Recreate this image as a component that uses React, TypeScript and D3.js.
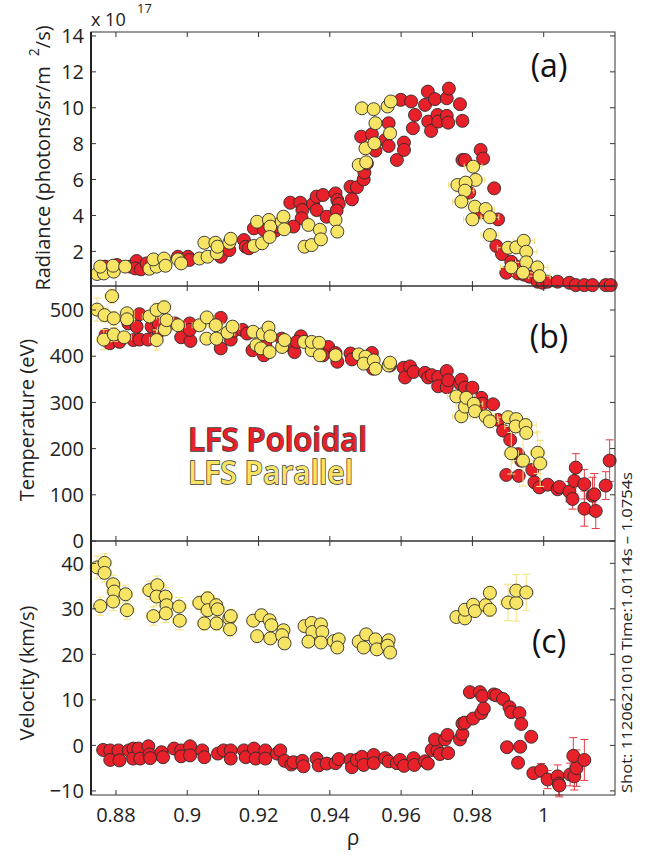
import React from 'react';
import * as d3 from 'd3';

// [rho, value, xErr, yErr]
type Pt = [number, number, number?, number?];

const X_TICKS = [0.88, 0.9, 0.92, 0.94, 0.96, 0.98, 1];
const X_TICK_LABELS = ['0.88', '0.9', '0.92', '0.94', '0.96', '0.98', '1'];
const RAD_TICKS = [2, 4, 6, 8, 10, 12, 14];
const TEMP_TICKS = [0, 100, 200, 300, 400, 500];
const VEL_TICKS = [-10, 0, 10, 20, 30, 40];

const radPoloidal: Pt[] = [
  [0.877, 1.15], [0.8803, 1.24], [0.884, 1.15], [0.8858, 1.46], [0.8854, 1.05], [0.887, 1.0], [0.8886, 1.33],
  [0.892, 1.4], [0.8974, 1.7], [0.9002, 1.7], [0.9006, 1.52], [0.9094, 1.7], [0.9118, 2.07], [0.9159, 2.63],
  [0.9164, 2.26], [0.9173, 2.17], [0.9187, 3.28], [0.9215, 3.2], [0.9247, 3.15], [0.9256, 3.38], [0.9289, 4.71],
  [0.9317, 4.71], [0.9323, 4.3], [0.9321, 3.84], [0.9298, 3.38], [0.9353, 4.64], [0.9363, 5.05], [0.9381, 5.14],
  [0.9363, 4.3], [0.9391, 3.93], [0.9416, 5.23], [0.9421, 4.86], [0.9425, 4.64], [0.9419, 4.27], [0.9458, 5.6],
  [0.9462, 4.9], [0.9476, 5.57], [0.9495, 6.01], [0.9497, 6.39], [0.9504, 6.9], [0.9488, 8.39], [0.9518, 8.52],
  [0.9528, 7.61], [0.9555, 8.2], [0.9565, 7.87], [0.9565, 9.14], [0.9588, 7.09], [0.9599, 10.44], [0.9608, 8.06],
  [0.9608, 7.65], [0.9628, 10.35], [0.9633, 8.86], [0.9639, 9.6], [0.9667, 10.16], [0.9675, 10.9], [0.9676, 9.23],
  [0.9684, 8.71], [0.9695, 10.48], [0.9702, 9.6], [0.9704, 9.23], [0.9728, 10.53], [0.9728, 9.55], [0.9734, 11.07],
  [0.9732, 9.17], [0.9765, 10.2], [0.9772, 9.27], [0.9772, 7.09], [0.9779, 7.09], [0.9823, 7.65], [0.983, 7.17],
  [0.9791, 5.27], [0.9861, 5.51], [0.9821, 4.16], [0.9872, 3.78], [0.9867, 2.3], [0.9883, 1.85], [0.9895, 0.81],
  [0.9909, 1.42], [0.9923, 1.15], [0.9928, 0.77], [0.9945, 0.7], [0.996, 0.59], [0.9983, 0.31], [0.9997, 0.25],
  [1.0011, 0.31], [1.0039, 0.31], [1.0072, 0.25], [1.009, 0.12], [1.0114, 0.12], [1.0137, 0.12], [1.0174, 0.12],
  [1.0188, 0.12],
];

const radParallel: Pt[] = [
  [0.8747, 0.74, 0.0015], [0.8766, 0.77, 0.0015], [0.8756, 1.15, 0.0015], [0.8794, 0.87, 0.0015], [0.8792, 1.2, 0.0015],
  [0.8826, 1.15, 0.0015], [0.8894, 1.03, 0.0015], [0.8914, 1.15, 0.0015], [0.8905, 1.55, 0.0015], [0.8935, 1.6, 0.0015],
  [0.8939, 1.2, 0.0015], [0.8974, 1.55, 0.0015], [0.8983, 1.33, 0.0015], [0.9034, 1.6, 0.0015], [0.9048, 2.48, 0.0015],
  [0.9057, 1.7, 0.0015], [0.9079, 2.48, 0.0015], [0.9083, 1.9, 0.0015], [0.9085, 2.26, 0.0015], [0.9118, 2.48, 0.0015],
  [0.9122, 2.7, 0.0015], [0.9187, 2.3, 0.0015], [0.9196, 3.65, 0.0015], [0.921, 2.45, 0.0015], [0.9229, 3.75, 0.0015],
  [0.9233, 3.38, 0.0015], [0.9231, 2.8, 0.0015], [0.9265, 3.65, 0.0015], [0.927, 3.93, 0.0015], [0.9272, 3.23, 0.0015],
  [0.934, 3.47, 0.0015], [0.9329, 2.26, 0.0015], [0.9349, 2.35, 0.0015], [0.9372, 3.2, 0.0015], [0.9375, 2.67, 0.0015],
  [0.9416, 3.75, 0.0015], [0.9421, 3.1, 0.0015], [0.9481, 6.81, 0.0015], [0.9502, 6.96, 0.0015], [0.95, 7.74, 0.0015],
  [0.9525, 8.02, 0.0015], [0.9528, 9.14, 0.0015], [0.9569, 8.58, 0.0015], [0.949, 9.97, 0.0015], [0.9523, 9.92, 0.0015],
  [0.9562, 10.07, 0.0015], [0.9571, 10.35, 0.0015], [0.9802, 6.72, 0.0025], [0.9809, 5.98, 0.0025], [0.9758, 5.7, 0.0025],
  [0.9781, 5.83, 0.0025], [0.9779, 5.38, 0.0025], [0.9769, 4.77, 0.0025], [0.9807, 4.49, 0.0025], [0.9837, 4.36, 0.0025],
  [0.98, 3.78, 0.0025], [0.9849, 3.9, 0.0025], [0.9849, 2.91, 0.0025], [0.99, 2.2, 0.003], [0.9923, 2.22, 0.003],
  [0.9944, 2.59, 0.003], [0.9951, 1.98, 0.003], [0.9909, 1.11, 0.003], [0.9951, 1.39, 0.003], [0.9942, 0.81, 0.003],
  [0.9982, 1.11, 0.003], [0.9988, 0.62, 0.003],
];

const tempPoloidal: Pt[] = [
  [0.8771, 446], [0.8782, 428], [0.881, 431], [0.8835, 471], [0.8849, 435], [0.8858, 464], [0.8866, 491],
  [0.8866, 436], [0.889, 436], [0.89, 464], [0.892, 453], [0.892, 471], [0.8966, 471], [0.8983, 441],
  [0.9007, 471], [0.9009, 433], [0.9007, 457], [0.9094, 483], [0.9094, 417], [0.9122, 436], [0.9131, 455],
  [0.9155, 457], [0.9168, 449], [0.9183, 413], [0.9215, 402], [0.9219, 424], [0.9265, 438], [0.9275, 424],
  [0.9301, 409], [0.9319, 443], [0.9307, 431], [0.9354, 420], [0.9396, 420], [0.9381, 402], [0.9416, 407],
  [0.9421, 388], [0.9458, 406], [0.9462, 393], [0.9518, 407], [0.9521, 373], [0.9569, 380], [0.9607, 375],
  [0.9625, 378], [0.9611, 354], [0.9635, 366], [0.9667, 364], [0.9676, 354], [0.9686, 359], [0.9704, 355],
  [0.9704, 335], [0.9728, 368], [0.9728, 333], [0.9732, 348], [0.9765, 341], [0.9769, 349], [0.9779, 332],
  [0.98, 332], [0.9825, 310], [0.9828, 297], [0.9858, 296], [0.9872, 262], [0.9886, 239], [0.9906, 219],
  [0.9895, 143], [0.9928, 188], [0.993, 141], [0.9937, 174], [0.9968, 154], [0.9974, 127], [0.9988, 116],
  [1.0011, 122], [1.0039, 112], [1.0044, 117], [1.0072, 107, 0, 22], [1.0081, 91, 0, 22], [1.0086, 130, 0, 28],
  [1.009, 159, 0, 30], [1.0114, 123, 0, 32], [1.0114, 70, 0, 38], [1.0137, 98, 0, 40], [1.0142, 101, 0, 45],
  [1.0146, 65, 0, 38], [1.0174, 120, 0, 30], [1.0185, 174, 0, 45],
];

const tempParallel: Pt[] = [
  [0.8747, 501, 0.002, 25], [0.8789, 530, 0.002, 15], [0.8768, 489, 0.002, 15], [0.8794, 482, 0.002, 15],
  [0.8766, 436, 0.002, 22], [0.8794, 447, 0.002, 15], [0.8823, 441, 0.002, 10], [0.8831, 493, 0.002, 10],
  [0.8831, 480, 0.002, 10], [0.8894, 486, 0.002, 10], [0.8914, 435, 0.002, 22], [0.8914, 500, 0.002, 15],
  [0.8935, 506, 0.002, 15], [0.8937, 458, 0.002, 10], [0.8942, 478, 0.002, 10], [0.8974, 467, 0.002, 10],
  [0.9034, 467, 0.002, 8], [0.9055, 484, 0.002, 8], [0.9054, 438, 0.002, 8], [0.908, 467, 0.002, 8],
  [0.9082, 438, 0.002, 8], [0.9113, 451, 0.002, 8], [0.9127, 464, 0.002, 8], [0.9185, 453, 0.0015, 6],
  [0.9194, 424, 0.0015, 6], [0.9207, 417, 0.0015, 6], [0.9212, 448, 0.0015, 6], [0.9228, 462, 0.0015, 6],
  [0.9233, 443, 0.0015, 6], [0.9231, 409, 0.0015, 6], [0.9266, 420, 0.0015, 6], [0.9273, 435, 0.0015, 6],
  [0.9328, 431, 0.0015, 6], [0.9349, 413, 0.0015, 6], [0.9349, 431, 0.0015, 6], [0.937, 429, 0.0015, 6],
  [0.9372, 402, 0.0015, 6], [0.9416, 402, 0.0015, 5], [0.9481, 404, 0.0015, 5], [0.95, 399, 0.0015, 5],
  [0.9495, 384, 0.0015, 5], [0.9523, 391, 0.0015, 5], [0.9528, 373, 0.0015, 5], [0.9565, 380, 0.0015, 5],
  [0.9569, 386, 0.0015, 5], [0.9755, 313, 0.0025, 6], [0.9769, 270, 0.0025, 6], [0.9779, 291, 0.0025, 6],
  [0.9783, 310, 0.0025, 6], [0.9804, 297, 0.0025, 6], [0.9807, 281, 0.0025, 6], [0.9837, 270, 0.0025, 6],
  [0.9849, 259, 0.0025, 6], [0.99, 268, 0.003, 8], [0.9923, 264, 0.003, 8], [0.9921, 248, 0.003, 8],
  [0.9949, 251, 0.003, 8], [0.9951, 234, 0.003, 10], [0.9909, 190, 0.002, 45], [0.9942, 174, 0.003, 55],
  [0.9983, 191, 0.002, 45], [0.999, 168, 0.002, 50],
];

const velPoloidal: Pt[] = [
  [0.8764, -1.0], [0.8784, -1.1], [0.8784, -3.2], [0.8807, -1.1], [0.881, -3.3], [0.8836, -1.1], [0.8849, -0.7],
  [0.8848, -2.9], [0.8863, -0.7], [0.8868, -2.9], [0.8891, -0.2], [0.8894, -2.0], [0.8896, -2.8], [0.8928, -1.5],
  [0.8932, -2.6], [0.8963, -0.7], [0.8983, -1.1], [0.8983, -2.4], [0.9008, -0.2], [0.9008, -2.2], [0.9042, -1.1],
  [0.9048, -2.6], [0.9086, -1.8], [0.9102, -1.1], [0.9122, -1.1], [0.9122, -2.9], [0.9159, -1.1], [0.9164, -2.6],
  [0.9187, -0.7], [0.9192, -2.9], [0.9219, -1.1], [0.9219, -2.9], [0.9252, -1.8], [0.9261, -1.1], [0.9273, -3.4],
  [0.9292, -4.2], [0.9298, -3.7], [0.9323, -3.4], [0.9326, -4.6], [0.9363, -2.9], [0.9369, -4.4], [0.9391, -4.0],
  [0.9416, -3.9], [0.9425, -3.0], [0.9458, -3.2], [0.9462, -4.8], [0.9476, -3.2], [0.949, -2.5], [0.9495, -4.3],
  [0.9523, -2.1], [0.9523, -3.9], [0.9555, -2.8], [0.9565, -3.5], [0.9588, -3.9], [0.9597, -3.2], [0.9608, -4.5],
  [0.9635, -2.8], [0.9637, -4.3], [0.9667, -3.5], [0.9675, -4.0], [0.9686, -1.0], [0.9702, -1.1], [0.9695, 1.3],
  [0.9709, -1.9], [0.9723, 1.3], [0.973, 2.3], [0.9732, -1.7], [0.9765, 1.3], [0.9772, 2.5], [0.9772, 4.8],
  [0.9779, 5.0], [0.9802, 5.9], [0.9793, 11.7], [0.9821, 11.7], [0.9828, 10.8], [0.9825, 7.1], [0.9832, 8.1],
  [0.986, 11.2], [0.9867, 11.0], [0.9886, 10.2], [0.9904, 8.4], [0.9909, 7.3], [0.9932, 7.1], [0.9937, 4.7],
  [0.9897, -0.4], [0.9934, -0.3], [0.9928, -3.8], [0.9965, 1.9], [0.9971, -6.1], [0.9993, -5.5, 0, 1.5],
  [1.0011, -7.5, 0, 2], [1.0039, -6.8, 0, 2.5], [1.0042, -8.4, 0, 2.5], [1.0044, -8.8, 0, 2.5], [1.0074, -6.4, 0, 2.5],
  [1.0086, -6.8, 0, 3], [1.0092, -5.0, 0, 4], [1.0083, -2.3, 0, 4], [1.0114, -3.2, 0, 4.5],
];

const velParallel: Pt[] = [
  [0.8747, 39.1, 0.002, 2.5], [0.8768, 40.1, 0.002, 2], [0.8768, 37.9, 0.002, 2], [0.8756, 30.6, 0.002, 2],
  [0.8792, 35.4, 0.002, 2], [0.8795, 33.8, 0.002, 2], [0.8792, 31.6, 0.002, 2], [0.8827, 33.2, 0.002, 2],
  [0.8831, 29.7, 0.002, 2], [0.8894, 34.1, 0.002, 2], [0.8916, 35.2, 0.002, 2], [0.8914, 32.7, 0.002, 2],
  [0.8905, 28.4, 0.002, 2], [0.8939, 32.7, 0.002, 2], [0.8942, 30.8, 0.002, 2], [0.894, 29.0, 0.002, 2],
  [0.8977, 30.5, 0.002, 2], [0.8979, 27.4, 0.002, 2], [0.9034, 31.3, 0.002, 1.5], [0.9057, 32.3, 0.002, 1.5],
  [0.9057, 29.7, 0.002, 1.5], [0.9048, 26.8, 0.002, 1.5], [0.9081, 30.8, 0.002, 1.5], [0.9085, 29.9, 0.002, 1.5],
  [0.9082, 26.8, 0.002, 1.5], [0.9118, 27.9, 0.002, 1.5], [0.9122, 28.4, 0.002, 1.5], [0.912, 25.5, 0.002, 1.5],
  [0.9185, 27.4, 0.0015, 1.2], [0.9208, 28.6, 0.0015, 1.2], [0.9196, 24.0, 0.0015, 1.2], [0.9231, 27.5, 0.0015, 1.2],
  [0.9236, 26.4, 0.0015, 1.2], [0.9233, 23.5, 0.0015, 1.2], [0.927, 25.3, 0.0015, 1.2], [0.9266, 24.2, 0.0015, 1.2],
  [0.9273, 22.4, 0.0015, 1.2], [0.9329, 26.2, 0.0015, 1.2], [0.9349, 26.9, 0.0015, 1.2], [0.9351, 24.9, 0.0015, 1.2],
  [0.934, 22.8, 0.0015, 1.2], [0.9375, 26.6, 0.0015, 1.2], [0.9379, 24.9, 0.0015, 1.2], [0.9375, 22.6, 0.0015, 1.2],
  [0.9411, 22.9, 0.0015, 1], [0.9425, 23.3, 0.0015, 1], [0.9421, 21.5, 0.0015, 1], [0.9481, 22.8, 0.0015, 1],
  [0.9502, 24.4, 0.0015, 1], [0.9495, 21.5, 0.0015, 1], [0.9528, 23.3, 0.0015, 1], [0.9532, 21.1, 0.0015, 1],
  [0.9565, 23.1, 0.0015, 1], [0.9562, 21.9, 0.0015, 1], [0.9569, 20.4, 0.0015, 1], [0.9755, 28.2, 0.0015, 1],
  [0.9779, 27.9, 0.0015, 1], [0.9779, 29.8, 0.0015, 1], [0.9802, 30.9, 0.0015, 1], [0.9807, 29.5, 0.0015, 1],
  [0.9837, 30.8, 0.0015, 1.5], [0.9849, 33.5, 0.0015, 1.5], [0.9849, 29.8, 0.0015, 1.5], [0.99, 31.4, 0.002, 4],
  [0.9923, 31.3, 0.002, 4], [0.9923, 34.0, 0.002, 3.5], [0.9951, 33.6, 0.002, 4],
];

const RED = '#e8202a';
const YELLOW = '#f7e465';
const RED_ERR = '#e63a42';
const YELLOW_ERR = '#f4e37a';
const INK = '#222';
const FONT = "'Open Sans', 'DejaVu Sans', sans-serif";

const W = 660;
const H = 855;
const LEFT = 91;
const RIGHT = 615;

const x = d3.scaleLinear().domain([0.873, 1.02]).range([LEFT, RIGHT]);

const panels = [
  { top: 32, bottom: 286, domain: [0.07, 14.22], ticks: RAD_TICKS, red: radPoloidal, yellow: radParallel, tag: '(a)', tagY: 77 },
  { top: 286, bottom: 541, domain: [0, 552], ticks: TEMP_TICKS, red: tempPoloidal, yellow: tempParallel, tag: '(b)', tagY: 348 },
  { top: 541, bottom: 795, domain: [-10.9, 44.9], ticks: VEL_TICKS, red: velPoloidal, yellow: velParallel, tag: '(c)', tagY: 653 },
];

function ErrorBars({ data, y, color }: { data: Pt[]; y: d3.ScaleLinear<number, number>; color: string }) {
  return (
    <g stroke={color} strokeWidth={1} fill="none">
      {data.map((d, i) => {
        const cx = x(d[0]);
        const cy = y(d[1]);
        const xe = d[2] || 0;
        const ye = d[3] || 0;
        return (
          <g key={i}>
            {xe > 0 && (
              <>
                <line x1={x(d[0] - xe)} x2={x(d[0] + xe)} y1={cy} y2={cy} />
                <line x1={x(d[0] - xe)} x2={x(d[0] - xe)} y1={cy - 3} y2={cy + 3} />
                <line x1={x(d[0] + xe)} x2={x(d[0] + xe)} y1={cy - 3} y2={cy + 3} />
              </>
            )}
            {ye > 0 && (
              <>
                <line x1={cx} x2={cx} y1={y(d[1] - ye)} y2={y(d[1] + ye)} />
                <line x1={cx - 4} x2={cx + 4} y1={y(d[1] - ye)} y2={y(d[1] - ye)} />
                <line x1={cx - 4} x2={cx + 4} y1={y(d[1] + ye)} y2={y(d[1] + ye)} />
              </>
            )}
          </g>
        );
      })}
    </g>
  );
}

function Dots({ data, y, color }: { data: Pt[]; y: d3.ScaleLinear<number, number>; color: string }) {
  return (
    <g fill={color} stroke="#2b2b2b" strokeWidth={0.9}>
      {data.map((d, i) => (
        <circle key={i} cx={x(d[0])} cy={y(d[1])} r={6.5} />
      ))}
    </g>
  );
}

export default function App() {
  return (
    <svg width={W} height={H} style={{ display: 'block', position: 'absolute', left: 0, top: 0, background: '#fff' }} fontFamily={FONT}>
      {panels.map((p, pi) => {
        const y = d3.scaleLinear().domain(p.domain).range([p.bottom, p.top]);
        return (
          <g key={pi}>
            <ErrorBars data={p.red} y={y} color={RED_ERR} />
            <Dots data={p.red} y={y} color={RED} />
            <ErrorBars data={p.yellow} y={y} color={YELLOW_ERR} />
            <Dots data={p.yellow} y={y} color={YELLOW} />
            {/* frame */}
            <rect x={LEFT} y={p.top} width={RIGHT - LEFT} height={p.bottom - p.top} fill="none" stroke="#333" strokeWidth={1} />
            <line x1={LEFT} x2={LEFT} y1={p.top} y2={p.bottom} stroke={INK} strokeWidth={2} />
            {X_TICKS.map(t => (
              <g key={t} stroke="#333" strokeWidth={1}>
                <line x1={x(t)} x2={x(t)} y1={p.bottom} y2={p.bottom - 5} />
                <line x1={x(t)} x2={x(t)} y1={p.top} y2={p.top + 5} />
              </g>
            ))}
            {p.ticks.map(t => (
              <g key={t}>
                <line x1={LEFT} x2={LEFT + 5} y1={y(t)} y2={y(t)} stroke="#333" />
                <line x1={RIGHT} x2={RIGHT - 5} y1={y(t)} y2={y(t)} stroke="#333" />
                <text x={84} y={y(t)} dy="0.36em" textAnchor="end" fontSize={20} fill={INK}>
                  {t < 0 ? `\u2212${Math.abs(t)}` : t}
                </text>
              </g>
            ))}
            <text x={549} y={p.tagY} textAnchor="middle" fontSize={32} fill="#111">{p.tag}</text>
          </g>
        );
      })}

      {/* x tick labels */}
      {X_TICKS.map((t, i) => (
        <text key={t} x={x(t)} y={822} textAnchor="middle" fontSize={20} fill={INK}>{X_TICK_LABELS[i]}</text>
      ))}
      <text x={(LEFT + RIGHT) / 2} y={845} textAnchor="middle" fontSize={21} fill={INK}>ρ</text>

      {/* exponent */}
      <text x={91} y={26} fontSize={18} fill={INK}>x 10</text>
      <text x={137} y={13} fontSize={13} fill={INK}>17</text>

      {/* y labels */}
      <text transform="translate(50,158) rotate(-90)" textAnchor="middle" fontSize={20} fill={INK}>
        Radiance (photons/sr/m<tspan dx={10} dy={-11} fontSize={14}>2</tspan><tspan dy={11}>/s)</tspan>
      </text>
      <text transform="translate(34,420) rotate(-90)" textAnchor="middle" fontSize={20} fill={INK}>Temperature (eV)</text>
      <text transform="translate(34,673) rotate(-90)" textAnchor="middle" fontSize={20} fill={INK}>Velocity (km/s)</text>

      {/* legend */}
      <text x={188} y={451} fontSize={33} fontWeight={600} fill={RED} stroke="#3a3a3a" strokeWidth={1.6}
        paintOrder="stroke" textLength={179} lengthAdjust="spacingAndGlyphs">LFS Poloidal</text>
      <text x={188} y={484} fontSize={33} fontWeight={600} fill={YELLOW} stroke="#3a3a3a" strokeWidth={1.6}
        paintOrder="stroke" textLength={165} lengthAdjust="spacingAndGlyphs">LFS Parallel</text>

      {/* shot info */}
      <text transform="translate(632,793) rotate(-90)" fontSize={15} fill={INK} textLength={321} lengthAdjust="spacingAndGlyphs">
        Shot: 1120621010   Time:1.0114s – 1.0754s
      </text>
    </svg>
  );
}
